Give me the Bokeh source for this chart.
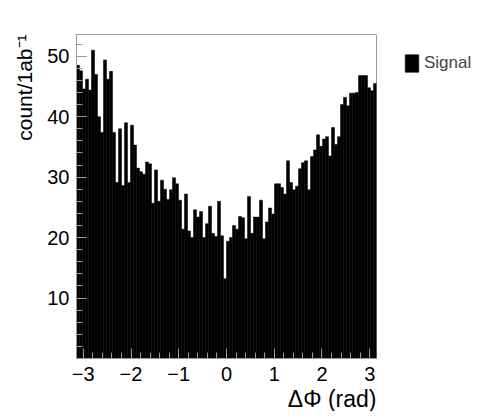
import numpy as np
from bokeh.plotting import figure
from bokeh.models import Range1d, FixedTicker, Legend, LegendItem, Title
from bokeh.embed import file_html
from bokeh.resources import INLINE

# ---- data ----
counts = [
    48.5, 47.6, 44.6, 46.2, 44.4, 51.0, 47.0, 40.0, 37.4, 49.4,
    46.2, 47.5, 37.4, 29.1, 38.0, 28.6, 39.0, 29.1, 38.6, 35.3,
    31.5, 30.9, 30.5, 32.5, 32.2, 25.7, 31.2, 26.0, 29.5, 28.0,
    26.3, 27.9, 29.9, 28.9, 26.2, 21.4, 27.2, 21.1, 20.0, 24.6,
    23.4, 24.3, 20.0, 22.3, 25.2, 20.7, 20.2, 26.0, 20.3, 13.2,
    19.4, 20.0, 22.0, 21.4, 23.5, 23.3, 19.8, 26.8, 20.7, 23.4,
    23.4, 26.2, 19.8, 22.6, 24.9, 23.9, 28.9, 28.9, 28.3, 27.2,
    32.7, 29.1, 27.9, 28.5, 31.4, 32.4, 32.7, 27.9, 33.4, 34.5,
    37.0, 35.1, 36.3, 36.7, 33.5, 38.2, 35.4, 36.7, 42.0, 43.2,
    41.8, 43.9, 43.9, 44.0, 46.8, 46.8, 46.8, 44.8, 44.3, 45.5,
]
x_min, x_max = -np.pi, np.pi
y_min, y_max = 0, 53.6
x_ticks = [-3, -2, -1, 0, 1, 2, 3]
x_tick_labels = ["\u22123", "\u22122", "\u22121", "0", "1", "2", "3"]
y_ticks = [10, 20, 30, 40, 50]
x_title = "\u0394\u03a6 (rad)"
y_title = "count/1ab\u207b\u00b9"
series_name = "Signal"

edges = np.linspace(x_min, x_max, len(counts) + 1)

FONT = "Liberation Sans"
GREY = "#9a9a9a"

p = figure(frame_width=300, frame_height=324, output_backend="svg",
           toolbar_location=None,
           x_range=Range1d(x_min, x_max), y_range=Range1d(y_min, y_max),
           min_border_left=76, min_border_right=95, min_border_top=34,
           min_border_bottom=53)
p.xgrid.visible = False
p.ygrid.visible = False
p.outline_line_color = GREY
p.outline_line_width = 1
p.background_fill_color = "white"
p.border_fill_color = "white"

r = p.quad(left=edges[:-1], right=edges[1:], bottom=0, top=counts,
           fill_color="black", line_color="black", line_width=0.5)

p.xaxis.ticker = FixedTicker(ticks=x_ticks,
                             minor_ticks=list(np.round(np.arange(-3.0, 3.01, 0.2), 2)))
p.xaxis.major_label_overrides = {t: l for t, l in zip(x_ticks, x_tick_labels)}
p.yaxis.ticker = FixedTicker(ticks=y_ticks, minor_ticks=list(range(2, 54, 2)))

for ax in (p.xaxis[0], p.yaxis[0]):
    ax.axis_line_color = GREY
    ax.major_tick_line_color = GREY
    ax.minor_tick_line_color = GREY
    ax.major_tick_in = 10
    ax.major_tick_out = 0
    ax.minor_tick_in = 6
    ax.minor_tick_out = 0
    ax.major_label_text_font = FONT
    ax.major_label_text_font_size = "20px"
    ax.major_label_text_color = "black"
p.xaxis.major_label_standoff = 8
p.yaxis.major_label_standoff = 7

p.add_layout(Title(text=x_title, align="right", text_font=FONT,
                   text_font_size="23px", text_font_style="normal",
                   text_color="black", standoff=0, offset=0), "below")
p.add_layout(Title(text=y_title, align="right", text_font=FONT,
                   text_font_size="21px", text_font_style="normal",
                   text_color="black", standoff=17, offset=0), "left")

legend = Legend(items=[LegendItem(label=series_name, renderers=[r])],
                location=(27, 284), padding=0, margin=0, spacing=0,
                glyph_width=17, glyph_height=22, label_height=22,
                label_standoff=4, label_text_font=FONT,
                label_text_font_size="17px", border_line_alpha=0,
                background_fill_alpha=0)
p.add_layout(legend, "right")

open("out.html", "w").write(file_html(p, INLINE))
